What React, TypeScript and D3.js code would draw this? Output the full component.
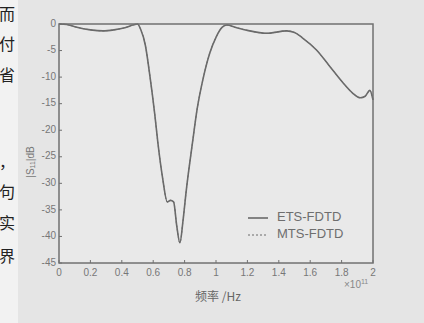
import React from "react";
import * as d3 from "d3";

// frequency in units of 1e11 Hz, |S11| in dB
const freq = [0, 0.05, 0.1, 0.2, 0.28, 0.35, 0.42, 0.47, 0.5, 0.52, 0.55, 0.58, 0.61, 0.63, 0.66, 0.69, 0.71, 0.73, 0.75, 0.77, 0.79, 0.81, 0.85, 0.88, 0.92, 0.96, 1.0, 1.04, 1.07, 1.12, 1.2, 1.32, 1.45, 1.5, 1.55, 1.64, 1.72, 1.81, 1.87, 1.92, 1.95, 1.98, 2.0];
const etsValues = [0, -0.1, -0.5, -1.1, -1.3, -1.1, -0.7, -0.2, 0, -1, -4, -10, -17, -22.4, -29, -33.5, -33.2, -33.5, -38, -41.2, -37, -31.5, -22.4, -16, -10, -5.5, -2.5, -0.6, -0.2, -0.6, -1.2, -1.75, -1.3, -1.6, -2.6, -4.9, -7.8, -11.1, -13, -13.9, -13.6, -12.5, -14.3];
const mtsValues = [0, -0.1, -0.5, -1.1, -1.3, -1.1, -0.7, -0.2, 0, -1, -4, -10, -17, -22.4, -29, -33.5, -33.2, -33.5, -38, -41.2, -37, -31.5, -22.4, -16, -10, -5.5, -2.5, -0.6, -0.2, -0.6, -1.2, -1.75, -1.3, -1.6, -2.6, -4.9, -7.8, -11.1, -13, -13.9, -13.6, -12.5, -14.3];
const xTicks = [0, 0.2, 0.4, 0.6, 0.8, 1, 1.2, 1.4, 1.6, 1.8, 2];
const yTicks = [0, -5, -10, -15, -20, -25, -30, -35, -40, -45];
const seriesNames = ["ETS-FDTD", "MTS-FDTD"];
const sideChars = [["而", 16], ["付", 46], ["省", 77], ["，", 164], ["句", 194], ["实", 225], ["界", 258]] as const;

const W = 424, H = 323;
const left = 59, right = 373, top = 24, bottom = 263;
const ink = "#6a6a6a";
const font = "'Liberation Sans', Arial, sans-serif";

export default function App() {
  const x = d3.scaleLinear().domain([0, 2]).range([left, right]);
  const y = d3.scaleLinear().domain([-45, 0]).range([bottom, top]);
  const line = d3.line<number>().x((_, i) => x(freq[i])).y(d => y(d)).curve(d3.curveMonotoneX);

  return (
    <svg width={W} height={H} style={{ position: "absolute", left: 0, top: 0, background: "#e5e5e5" }}>
      <rect x={0} y={0} width={18} height={H} fill="#f2f2f2" />
      {sideChars.map(([c, cy]) => (
        <text key={c + cy} x={15} y={cy} textAnchor="end" dominantBaseline="middle" fontSize={16}
          fontFamily="'Noto Sans CJK SC', sans-serif" fill="#222">{c}</text>
      ))}
      <rect x={left} y={top} width={right - left} height={bottom - top} fill="#e9e9e9" />
      {/* series */}
      <path d={line(etsValues) ?? ""} fill="none" stroke={ink} strokeWidth={1.6} />
      <path d={line(mtsValues) ?? ""} fill="none" stroke={ink} strokeWidth={1} strokeDasharray="2,2" />
      {/* frame */}
      <rect x={left} y={top} width={right - left} height={bottom - top} fill="none" stroke="#707070" strokeWidth={1.5} />
      {xTicks.map(t => (
        <g key={"x" + t}>
          <line x1={x(t)} x2={x(t)} y1={bottom} y2={bottom - 3} stroke="#707070" />
          <text x={x(t)} y={273} textAnchor="middle" dominantBaseline="middle" fontSize={10} fontFamily={font} fill="#777">{t}</text>
        </g>
      ))}
      {yTicks.map(t => (
        <g key={"y" + t}>
          <line x1={left} x2={left + 3} y1={y(t)} y2={y(t)} stroke="#707070" />
          <text x={56} y={y(t)} textAnchor="end" dominantBaseline="middle" fontSize={10} fontFamily={font} fill="#777">{t}</text>
        </g>
      ))}
      <text x={344} y={288} fontSize={10} fontFamily={font} fill="#888">×10<tspan dy={-4} fontSize={7}>11</tspan></text>
      <text x={218} y={298} textAnchor="middle" dominantBaseline="middle" fontSize={12} fill="#666"
        fontFamily="'Noto Sans CJK SC', sans-serif">频率 /Hz</text>
      <text transform={`translate(31,162) rotate(-90)`} textAnchor="middle" dominantBaseline="middle" fontSize={10} fontFamily={font} fill="#777">
        |S<tspan fontSize={7} dy={2}>11</tspan><tspan dy={-2}>|dB</tspan>
      </text>
      {/* legend */}
      {seriesNames.map((n, i) => (
        <g key={n}>
          <line x1={248} x2={268} y1={218 + i * 17} y2={218 + i * 17} stroke={ink} strokeWidth={i === 0 ? 1.6 : 1} strokeDasharray={i === 0 ? undefined : "2,2"} />
          <text x={277} y={218 + i * 17} dominantBaseline="middle" fontSize={13} fontFamily={font} fill="#6e6e6e">{n}</text>
        </g>
      ))}
    </svg>
  );
}
